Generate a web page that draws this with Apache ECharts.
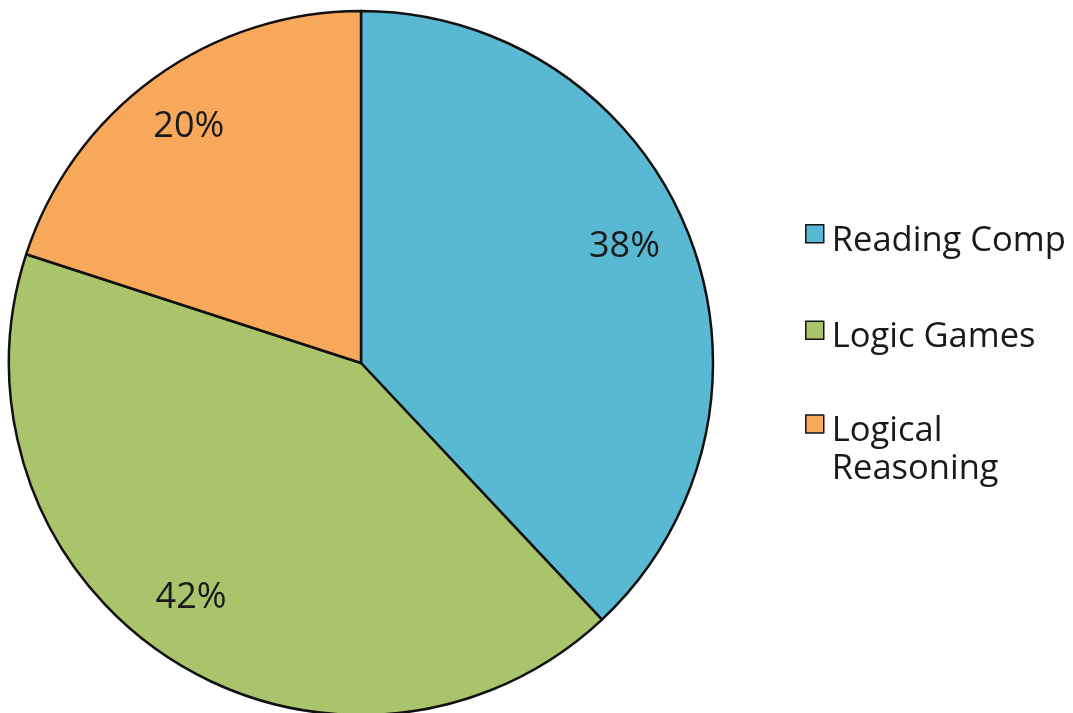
<!DOCTYPE html>
<html>
<head>
<meta charset="utf-8">
<title>LSAT section breakdown</title>
<script src="https://cdn.jsdelivr.net/npm/echarts@6/dist/echarts.min.js"></script>
<style>
  html, body { margin: 0; padding: 0; background: #ffffff; }
  #chart { width: 1073px; height: 713px; }
</style>
</head>
<body>
<div id="chart"></div>
<script>
// Share of questions per section
const sections = ['Reading Comp', 'Logic Games', 'Logical Reasoning'];
const shares = [38, 42, 20];
const legendNames = ['Reading Comp', 'Logic Games', 'Logical\nReasoning'];

const sliceColors = ['#59b9d2', '#aac46c', '#f8a85b'];
const textColor = '#1a1a1a';
const fontFamily = '"Open Sans", "Noto Sans", sans-serif';

// Nudge each percentage label away from the default inside spot
const labelShift = [[97, -50], [-74, 84], [-67, -91]];

// Legend swatches: an 18px square placed inside a taller invisible box,
// so the square sits level with the first text line rather than the middle.
const swatchSingle = 'path://M0,0M21,70M0,19h18v18h-18z';
const swatchTop = 'path://M0,70M21,0M0,0h18v18h-18z';

const chart = echarts.init(document.getElementById('chart'), null, { renderer: 'canvas' });

const legendBase = {
  orient: 'vertical',
  left: 805,
  padding: 0,
  itemWidth: 21,
  itemHeight: 70,
  itemGap: 25,
  selectedMode: false,
  itemStyle: { borderColor: '#111', borderWidth: 1.5 },
  textStyle: {
    color: textColor,
    fontFamily: fontFamily,
    fontSize: 34.5,
    lineHeight: 38
  },
  formatter: function (name) {
    return legendNames[sections.indexOf(name)];
  }
};

chart.setOption({
  animation: false,
  legend: [
    Object.assign({}, legendBase, {
      top: 205,
      icon: swatchSingle,
      data: [sections[0], sections[1]]
    }),
    Object.assign({}, legendBase, {
      top: 412,
      icon: swatchTop,
      data: [sections[2]]
    })
  ],
  series: [{
    type: 'pie',
    center: [361, 363],
    radius: 352,
    startAngle: 90,
    clockwise: true,
    silent: true,
    itemStyle: { borderColor: '#111', borderWidth: 2.5 },
    label: {
      position: 'inside',
      formatter: '{c}%',
      color: textColor,
      fontFamily: fontFamily,
      fontSize: 36
    },
    labelLine: { show: false },
    labelLayout: function (params) {
      const s = labelShift[params.dataIndex];
      return { dx: s[0], dy: s[1] };
    },
    data: sections.map(function (name, i) {
      return { name: name, value: shares[i], itemStyle: { color: sliceColors[i] } };
    })
  }]
});
</script>
</body>
</html>
